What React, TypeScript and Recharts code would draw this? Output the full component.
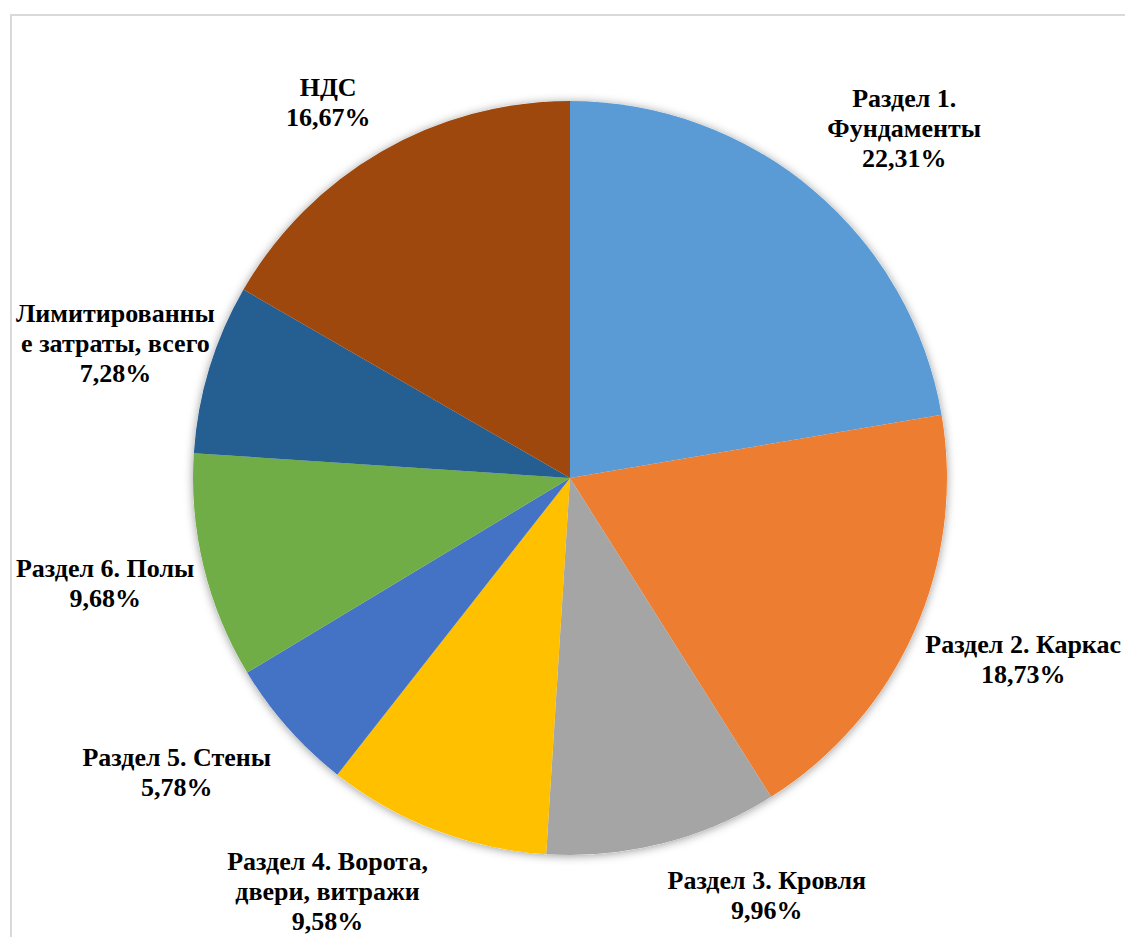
import { PieChart, Pie, Cell } from 'recharts'

const categories = [
  'Раздел 1. Фундаменты',
  'Раздел 2. Каркас',
  'Раздел 3. Кровля',
  'Раздел 4. Ворота, двери, витражи',
  'Раздел 5. Стены',
  'Раздел 6. Полы',
  'Лимитированные затраты, всего',
  'НДС',
]
const shares = [22.31, 18.73, 9.96, 9.58, 5.78, 9.68, 7.28, 16.67]
// label text as Excel wrapped it
const labelLines = [
  ['Раздел 1.', 'Фундаменты'],
  ['Раздел 2. Каркас'],
  ['Раздел 3. Кровля'],
  ['Раздел 4. Ворота,', 'двери, витражи'],
  ['Раздел 5. Стены'],
  ['Раздел 6. Полы'],
  ['Лимитированны', 'е затраты, всего'],
  ['НДС'],
]
const colors = ['#5B9BD5', '#ED7D31', '#A5A5A5', '#FFC000', '#4472C4', '#70AD47', '#255E91', '#9E480E']

const data = categories.map((name, i) => ({ name, value: shares[i] }))

const FONT = "'Liberation Serif', 'Times New Roman', serif"
const FONT_SIZE = 26
const LINE_H = 30
const AREA_LEFT = 16
const AREA_RIGHT = 1121
const AREA_BOTTOM = 936

let ctx: CanvasRenderingContext2D | null = null
function measure(text: string) {
  if (!ctx) ctx = document.createElement('canvas').getContext('2d')
  if (!ctx) return text.length * 12
  ctx.font = `bold ${FONT_SIZE}px ${FONT}`
  return ctx.measureText(text).width
}

const clamp = (v: number) => Math.max(-1, Math.min(1, v))
const pct = (v: number) => v.toFixed(2).replace('.', ',') + '%'

function renderLabel(props: any) {
  const { cx, cy, midAngle, outerRadius, index } = props
  const lines = [...labelLines[index], pct(shares[index])]
  const rad = (-midAngle * Math.PI) / 180
  const cos = Math.cos(rad)
  const sin = Math.sin(rad)
  const r = outerRadius + 22
  const px = cx + r * cos
  const py = cy + r * sin
  const w = Math.max(...lines.map(measure))
  const h = lines.length * LINE_H
  let bx = px + (clamp(cos * 4) * w) / 2
  // keep the label inside the chart area
  if (bx - w / 2 < AREA_LEFT) bx = AREA_LEFT + w / 2
  if (bx + w / 2 > AREA_RIGHT) bx = AREA_RIGHT - w / 2
  let top = py + (clamp(sin * 1.5) * h) / 2 - h / 2
  if (top + h > AREA_BOTTOM) top = AREA_BOTTOM - h
  return (
    <text
      key={`lbl-${index}`}
      x={bx}
      y={top}
      textAnchor="middle"
      dominantBaseline="central"
      style={{ fontFamily: FONT, fontSize: FONT_SIZE, fontWeight: 700 }}
      fill="#000"
    >
      {lines.map((line, i) => (
        <tspan key={i} x={bx} y={top + LINE_H / 2 + i * LINE_H}>
          {line}
        </tspan>
      ))}
    </text>
  )
}

export default function App() {
  return (
    <div style={{ position: 'fixed', left: 0, top: 0, width: 1125, height: 937, overflow: 'hidden', background: '#fff' }}>
      <div
        style={{
          position: 'absolute',
          left: 10,
          top: 14,
          width: 1200,
          height: 1000,
          borderTop: '2px solid #d9d9d9',
          borderLeft: '2px solid #d9d9d9',
        }}
      />
      <div style={{ position: 'absolute', left: 0, top: 0 }}>
        <PieChart width={1125} height={937} margin={{ top: 0, right: 0, bottom: 0, left: 0 }}>
          <defs>
            <filter id="pieShadow" x="-10%" y="-10%" width="120%" height="120%">
              <feDropShadow dx="0" dy="1" stdDeviation="5" floodColor="#000" floodOpacity="0.4" />
            </filter>
          </defs>
          <Pie
            data={data}
            dataKey="value"
            nameKey="name"
            cx={570}
            cy={478}
            outerRadius={377}
            startAngle={90}
            endAngle={-270}
            stroke="none"
            isAnimationActive={false}
          >
            {data.map((_, i) => (
              <Cell key={`sh-${i}`} fill="#fff" filter="url(#pieShadow)" />
            ))}
          </Pie>
          <Pie
            data={data}
            dataKey="value"
            nameKey="name"
            cx={570}
            cy={478}
            outerRadius={377}
            startAngle={90}
            endAngle={-270}
            stroke="none"
            labelLine={false}
            label={renderLabel}
            isAnimationActive={false}
          >
            {data.map((entry, i) => (
              <Cell key={`cell-${i}`} fill={colors[i]} />
            ))}
          </Pie>
        </PieChart>
      </div>
    </div>
  )
}
